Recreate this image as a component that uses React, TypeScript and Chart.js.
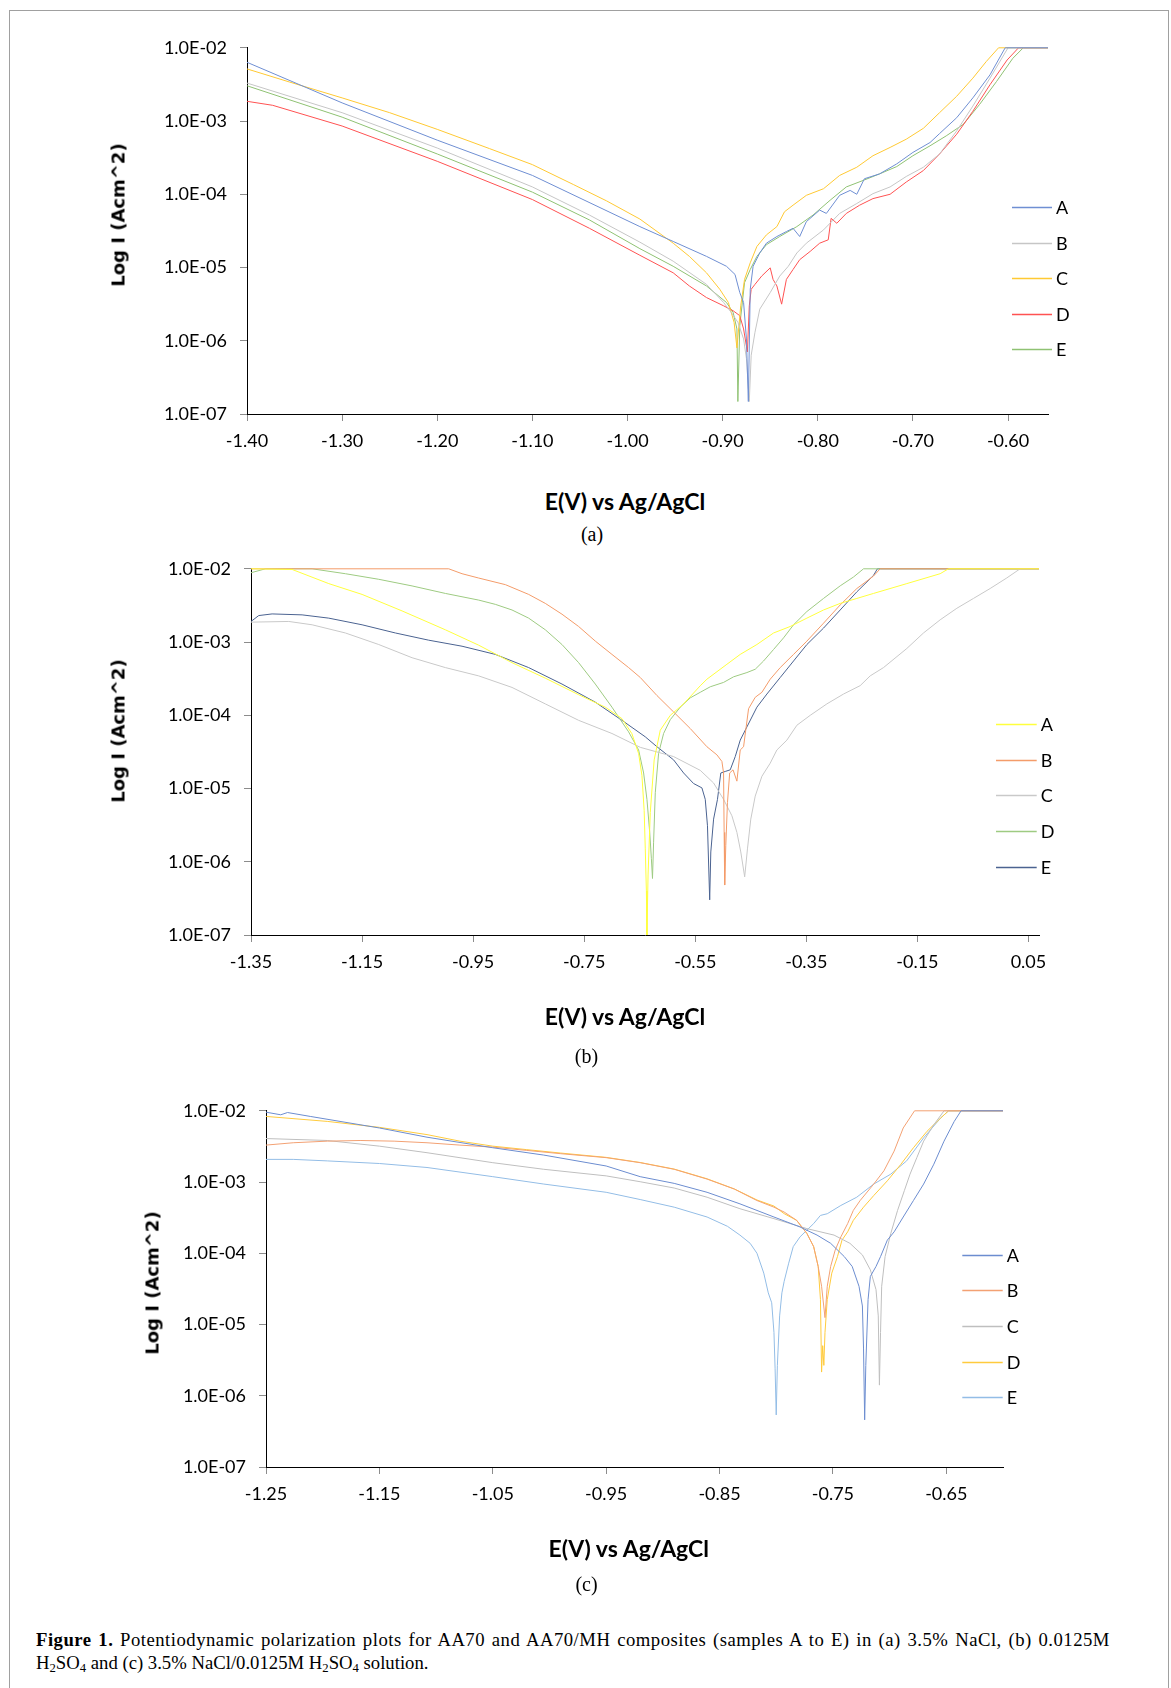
import React, { useEffect, useRef } from "react";
import { Chart, registerables } from "chart.js";

Chart.register(...registerables);

// ---------- shared ----------
const seriesLabels = ["A", "B", "C", "D", "E"];
const yTickValues = [1e-7, 1e-6, 1e-5, 1e-4, 1e-3, 1e-2];

// ---------- panel (a): 3.5% NaCl ----------
const aTicksX = [-1.4, -1.3, -1.2, -1.1, -1.0, -0.9, -0.8, -0.7, -0.6];

const aA_E = [-1.400, -1.300, -1.200, -1.100, -0.987, -0.952, -0.917, -0.896, -0.887, -0.882, -0.878, -0.875, -0.873, -0.871, -0.868, -0.861, -0.854, -0.843, -0.833, -0.826, -0.819, -0.812, -0.798, -0.791, -0.777, -0.766, -0.759, -0.751, -0.735, -0.717, -0.700, -0.682, -0.672, -0.654, -0.637, -0.619, -0.603, -0.558];
const aA_I = [6.34e-3, 1.77e-3, 5.48e-4, 1.81e-4, 3.62e-5, 2.27e-5, 1.42e-5, 1.04e-5, 8.04e-6, 4.55e-6, 3.33e-6, 1.06e-6, 1.48e-7, 5.04e-6, 1.04e-5, 1.58e-5, 2.15e-5, 2.65e-5, 3.10e-5, 3.43e-5, 2.65e-5, 4.23e-5, 6.08e-5, 5.48e-5, 9.68e-5, 1.13e-4, 1.0e-4, 1.63e-4, 1.90e-4, 2.60e-4, 3.73e-4, 5.09e-4, 6.74e-4, 1.11e-3, 2.07e-3, 4.27e-3, 1.0e-2, 1.0e-2];

const aB_E = [-1.400, -1.300, -1.200, -1.100, -1.040, -0.987, -0.952, -0.917, -0.899, -0.891, -0.884, -0.878, -0.875, -0.872, -0.870, -0.866, -0.861, -0.850, -0.840, -0.831, -0.822, -0.812, -0.794, -0.777, -0.759, -0.742, -0.724, -0.707, -0.689, -0.672, -0.654, -0.637, -0.619, -0.600, -0.558];
const aB_I = [3.30e-3, 1.30e-3, 4.28e-4, 1.26e-4, 5.20e-5, 2.22e-5, 1.22e-5, 5.89e-6, 3.33e-6, 2.44e-6, 1.79e-6, 1.06e-6, 5.71e-7, 1.48e-7, 6.34e-7, 1.31e-6, 2.70e-6, 4.55e-6, 7.64e-6, 1.04e-5, 1.58e-5, 2.15e-5, 3.26e-5, 5.48e-5, 7.48e-5, 1.02e-4, 1.26e-4, 1.75e-4, 2.34e-4, 3.55e-4, 7.33e-4, 1.60e-3, 3.85e-3, 1.0e-2, 1.0e-2];

const aC_E = [-1.400, -1.355, -1.300, -1.250, -1.200, -1.145, -1.100, -1.057, -1.022, -0.987, -0.952, -0.935, -0.917, -0.903, -0.894, -0.888, -0.885, -0.881, -0.877, -0.871, -0.864, -0.854, -0.843, -0.835, -0.826, -0.812, -0.794, -0.777, -0.759, -0.742, -0.724, -0.707, -0.689, -0.672, -0.654, -0.637, -0.623, -0.610, -0.558];
const aC_I = [5.15e-3, 3.40e-3, 2.07e-3, 1.30e-3, 7.70e-4, 4.20e-4, 2.54e-4, 1.36e-4, 8.12e-5, 4.59e-5, 2.15e-5, 1.42e-5, 8.47e-6, 5.04e-6, 3.33e-6, 1.79e-6, 8.0e-7, 3.0e-6, 6.88e-6, 1.16e-5, 1.94e-5, 2.79e-5, 3.62e-5, 5.77e-5, 7.10e-5, 9.68e-5, 1.19e-4, 1.81e-4, 2.34e-4, 3.36e-4, 4.36e-4, 5.65e-4, 7.96e-4, 1.30e-3, 2.18e-3, 3.85e-3, 6.47e-3, 1.0e-2, 1.0e-2];

const aD_E = [-1.400, -1.373, -1.300, -1.200, -1.100, -1.040, -0.987, -0.952, -0.935, -0.917, -0.899, -0.889, -0.882, -0.878, -0.874, -0.872, -0.870, -0.866, -0.859, -0.850, -0.847, -0.843, -0.838, -0.833, -0.826, -0.819, -0.808, -0.798, -0.789, -0.786, -0.780, -0.770, -0.756, -0.742, -0.724, -0.707, -0.689, -0.672, -0.654, -0.637, -0.619, -0.601, -0.589, -0.558];
const aD_I = [1.86e-3, 1.64e-3, 8.55e-4, 2.82e-4, 8.47e-5, 3.43e-5, 1.47e-5, 8.47e-6, 5.60e-6, 3.89e-6, 3.00e-6, 2.57e-6, 2.20e-6, 1.45e-6, 7.03e-7, 3.00e-6, 5.04e-6, 5.89e-6, 7.64e-6, 9.89e-6, 6.88e-6, 5.60e-6, 3.16e-6, 6.88e-6, 9.40e-6, 1.28e-5, 1.66e-5, 2.15e-5, 2.39e-5, 4.69e-5, 4.02e-5, 5.48e-5, 7.10e-5, 8.73e-5, 1.0e-4, 1.47e-4, 2.11e-4, 3.55e-4, 6.61e-4, 1.36e-3, 3.13e-3, 6.81e-3, 1.0e-2, 1.0e-2];

const aE_E = [-1.400, -1.300, -1.200, -1.100, -1.040, -0.987, -0.952, -0.917, -0.896, -0.889, -0.885, -0.884, -0.882, -0.877, -0.871, -0.864, -0.854, -0.840, -0.822, -0.805, -0.787, -0.770, -0.752, -0.735, -0.717, -0.700, -0.682, -0.665, -0.647, -0.630, -0.612, -0.595, -0.584, -0.558];
const aE_I = [3.03e-3, 1.13e-3, 3.55e-4, 1.07e-4, 4.46e-5, 1.81e-5, 1.04e-5, 5.60e-6, 3.33e-6, 2.44e-6, 1.45e-6, 1.48e-7, 1.61e-6, 6.21e-6, 9.40e-6, 1.42e-5, 2.05e-5, 2.65e-5, 3.62e-5, 5.20e-5, 8.30e-5, 1.26e-4, 1.55e-4, 1.90e-4, 2.39e-4, 3.36e-4, 4.59e-4, 6.27e-4, 9.02e-4, 1.68e-3, 3.48e-3, 7.18e-3, 1.0e-2, 1.0e-2];

// ---------- panel (b): 0.0125M H2SO4 ----------
const bTicksX = [-1.35, -1.15, -0.95, -0.75, -0.55, -0.35, -0.15, 0.05];

const bA_E = [-1.350, -1.276, -1.210, -1.150, -1.078, -1.000, -0.940, -0.880, -0.820, -0.760, -0.712, -0.682, -0.664, -0.652, -0.646, -0.642, -0.640, -0.638, -0.637, -0.635, -0.631, -0.624, -0.613, -0.595, -0.571, -0.541, -0.529, -0.493, -0.469, -0.439, -0.409, -0.379, -0.349, -0.319, -0.289, -0.259, -0.229, -0.169, -0.109, -0.094, 0.069];
const bA_I = [1.0e-2, 9.8e-3, 6.28e-3, 4.47e-3, 2.66e-3, 1.47e-3, 9.06e-4, 5.23e-4, 3.21e-4, 1.91e-4, 1.29e-4, 9.0e-5, 5.6e-5, 3.0e-5, 1.5e-5, 5.0e-6, 1.5e-6, 4.0e-7, 1.0e-7, 6.6e-7, 4.7e-6, 2.46e-5, 6.25e-5, 9.98e-5, 1.43e-4, 2.53e-4, 3.11e-4, 4.97e-4, 6.78e-4, 9.25e-4, 1.33e-3, 1.63e-3, 2.12e-3, 2.74e-3, 3.37e-3, 3.94e-3, 4.61e-3, 6.28e-3, 8.57e-3, 1.0e-2, 1.0e-2];

const bB_E = [-1.350, -0.994, -0.970, -0.940, -0.892, -0.850, -0.820, -0.790, -0.760, -0.730, -0.700, -0.670, -0.649, -0.619, -0.589, -0.559, -0.529, -0.511, -0.502, -0.499, -0.498, -0.497, -0.495, -0.492, -0.488, -0.482, -0.475, -0.469, -0.463, -0.454, -0.442, -0.430, -0.415, -0.397, -0.373, -0.349, -0.319, -0.289, -0.259, -0.229, -0.217, 0.069];
const bB_I = [1.0e-2, 1.0e-2, 8.57e-3, 7.48e-3, 6.08e-3, 4.47e-3, 3.37e-3, 2.40e-3, 1.63e-3, 1.03e-3, 6.78e-4, 4.48e-4, 3.28e-4, 1.86e-4, 1.11e-4, 6.59e-5, 3.72e-5, 2.88e-5, 2.34e-5, 1.63e-5, 2.52e-6, 4.81e-7, 1.67e-6, 6.40e-6, 1.63e-5, 1.80e-5, 1.26e-5, 3.36e-5, 3.72e-5, 1.23e-4, 1.76e-4, 2.06e-4, 3.11e-4, 4.48e-4, 6.78e-4, 1.03e-3, 1.81e-3, 3.21e-3, 5.38e-3, 7.96e-3, 1.0e-2, 1.0e-2];

const bC_E = [-1.350, -1.282, -1.240, -1.180, -1.120, -1.060, -1.000, -0.940, -0.880, -0.820, -0.760, -0.700, -0.649, -0.589, -0.541, -0.517, -0.499, -0.484, -0.475, -0.468, -0.461, -0.456, -0.450, -0.442, -0.430, -0.415, -0.403, -0.385, -0.367, -0.343, -0.313, -0.283, -0.253, -0.235, -0.211, -0.169, -0.139, -0.109, -0.079, -0.049, -0.019, 0.011, 0.035, 0.069];
const bC_I = [1.87e-3, 1.91e-3, 1.72e-3, 1.33e-3, 9.25e-4, 6.11e-4, 4.48e-4, 3.45e-4, 2.40e-4, 1.43e-4, 8.53e-5, 5.64e-5, 3.65e-5, 2.73e-5, 1.77e-5, 1.19e-5, 7.11e-6, 4.24e-6, 2.52e-6, 1.36e-6, 6.22e-7, 1.50e-6, 3.82e-6, 7.88e-6, 1.47e-5, 2.22e-5, 3.36e-5, 4.58e-5, 7.31e-5, 9.98e-5, 1.43e-4, 1.95e-4, 2.54e-4, 3.45e-4, 4.48e-4, 8.17e-4, 1.33e-3, 2.01e-3, 2.89e-3, 3.94e-3, 5.38e-3, 7.50e-3, 1.0e-2, 1.0e-2];

const bD_E = [-1.350, -1.324, -1.240, -1.180, -1.120, -1.060, -1.000, -0.940, -0.910, -0.880, -0.850, -0.820, -0.790, -0.760, -0.730, -0.700, -0.670, -0.652, -0.643, -0.637, -0.632, -0.629, -0.627, -0.625, -0.622, -0.616, -0.607, -0.595, -0.577, -0.559, -0.541, -0.523, -0.499, -0.481, -0.457, -0.442, -0.427, -0.409, -0.391, -0.373, -0.349, -0.319, -0.289, -0.265, -0.247, 0.069];
const bD_I = [8.83e-3, 1.0e-2, 1.0e-2, 8.57e-3, 7.19e-3, 5.84e-3, 4.61e-3, 3.74e-3, 3.27e-3, 2.74e-3, 2.12e-3, 1.47e-3, 9.25e-4, 5.23e-4, 2.67e-4, 1.29e-4, 5.94e-5, 3.36e-5, 1.63e-5, 7.11e-6, 2.52e-6, 1.10e-6, 5.91e-7, 1.85e-6, 8.75e-6, 3.03e-5, 5.64e-5, 8.71e-5, 1.29e-4, 1.73e-4, 2.06e-4, 2.45e-4, 2.81e-4, 3.35e-4, 3.83e-4, 4.25e-4, 5.51e-4, 7.91e-4, 1.14e-3, 1.72e-3, 2.61e-3, 3.94e-3, 5.85e-3, 7.73e-3, 1.0e-2, 1.0e-2];

const bE_E = [-1.350, -1.336, -1.312, -1.258, -1.210, -1.150, -1.090, -1.030, -0.970, -0.910, -0.850, -0.790, -0.730, -0.682, -0.640, -0.619, -0.589, -0.571, -0.553, -0.538, -0.532, -0.528, -0.524, -0.522, -0.517, -0.510, -0.504, -0.496, -0.487, -0.478, -0.469, -0.457, -0.439, -0.421, -0.397, -0.373, -0.349, -0.319, -0.289, -0.259, -0.229, -0.222, 0.069];
const bE_I = [1.91e-3, 2.30e-3, 2.42e-3, 2.35e-3, 2.12e-3, 1.72e-3, 1.33e-3, 1.06e-3, 8.77e-4, 6.78e-4, 4.48e-4, 2.67e-4, 1.51e-4, 8.53e-5, 5.08e-5, 3.72e-5, 2.46e-5, 1.63e-5, 1.17e-5, 1.02e-5, 7.11e-6, 3.10e-6, 3.02e-7, 1.36e-6, 3.82e-6, 7.11e-6, 1.63e-5, 1.71e-5, 1.80e-5, 2.73e-5, 4.58e-5, 6.93e-5, 1.29e-4, 1.95e-4, 3.28e-4, 5.51e-4, 9.25e-4, 1.55e-3, 2.74e-3, 4.85e-3, 8.13e-3, 1.0e-2, 1.0e-2];

// ---------- panel (c): 3.5% NaCl / 0.0125M H2SO4 ----------
const cTicksX = [-1.25, -1.15, -1.05, -0.95, -0.85, -0.75, -0.65];

const cA_E = [-1.250, -1.237, -1.231, -1.211, -1.150, -1.108, -1.050, -1.005, -0.950, -0.920, -0.890, -0.861, -0.832, -0.802, -0.779, -0.764, -0.752, -0.740, -0.733, -0.727, -0.724, -0.723, -0.722, -0.721, -0.719, -0.717, -0.712, -0.708, -0.702, -0.696, -0.688, -0.679, -0.670, -0.661, -0.652, -0.643, -0.637, -0.600];
const cA_I = [9.57e-3, 8.79e-3, 9.46e-3, 8.34e-3, 5.74e-3, 4.26e-3, 3.03e-3, 2.39e-3, 1.68e-3, 1.19e-3, 9.58e-4, 7.18e-4, 4.94e-4, 3.23e-4, 2.34e-4, 1.80e-4, 1.38e-4, 8.99e-5, 6.53e-5, 3.44e-5, 1.82e-5, 4.54e-6, 4.59e-7, 2.67e-6, 2.24e-5, 4.73e-5, 6.53e-5, 8.98e-5, 1.53e-4, 2.00e-4, 3.23e-4, 5.50e-4, 9.37e-4, 1.78e-3, 3.75e-3, 7.10e-3, 1.0e-2, 1.0e-2];

const cB_E = [-1.250, -1.226, -1.196, -1.167, -1.137, -1.108, -1.079, -1.050, -1.020, -0.990, -0.950, -0.920, -0.890, -0.861, -0.837, -0.817, -0.802, -0.793, -0.782, -0.773, -0.767, -0.763, -0.760, -0.757, -0.755, -0.752, -0.748, -0.743, -0.737, -0.732, -0.726, -0.714, -0.705, -0.696, -0.688, -0.678, -0.600];
const cB_I = [3.30e-3, 3.56e-3, 3.75e-3, 3.83e-3, 3.75e-3, 3.56e-3, 3.30e-3, 3.09e-3, 2.78e-3, 2.50e-3, 2.20e-3, 1.87e-3, 1.51e-3, 1.10e-3, 7.98e-4, 5.50e-4, 4.44e-4, 3.79e-4, 2.90e-4, 1.90e-4, 1.24e-4, 6.53e-5, 3.44e-5, 1.25e-5, 3.44e-5, 6.53e-5, 1.11e-4, 1.70e-4, 2.61e-4, 4.00e-4, 5.50e-4, 9.37e-4, 1.44e-3, 2.72e-3, 5.74e-3, 1.0e-2, 1.0e-2];

const cC_E = [-1.250, -1.196, -1.150, -1.108, -1.050, -1.005, -0.950, -0.920, -0.890, -0.861, -0.832, -0.802, -0.773, -0.749, -0.735, -0.724, -0.717, -0.712, -0.710, -0.709, -0.708, -0.707, -0.704, -0.699, -0.693, -0.687, -0.682, -0.676, -0.670, -0.661, -0.652, -0.600];
const cC_I = [4.08e-3, 3.83e-3, 3.19e-3, 2.58e-3, 1.87e-3, 1.51e-3, 1.22e-3, 1.01e-3, 8.24e-4, 6.12e-4, 4.22e-4, 3.06e-4, 2.22e-4, 1.80e-4, 1.38e-4, 9.48e-5, 5.86e-5, 3.09e-5, 1.32e-5, 1.41e-6, 7.74e-6, 3.44e-5, 8.98e-5, 1.89e-4, 3.99e-4, 7.57e-4, 1.29e-3, 2.20e-3, 3.75e-3, 6.38e-3, 1.0e-2, 1.0e-2];

const cD_E = [-1.250, -1.196, -1.150, -1.108, -1.079, -1.050, -1.020, -0.990, -0.950, -0.920, -0.890, -0.861, -0.837, -0.817, -0.802, -0.793, -0.782, -0.773, -0.767, -0.763, -0.761, -0.760, -0.759, -0.758, -0.757, -0.755, -0.751, -0.746, -0.742, -0.737, -0.732, -0.723, -0.714, -0.702, -0.690, -0.679, -0.667, -0.655, -0.648, -0.600];
const cD_I = [8.34e-3, 7.10e-3, 5.86e-3, 4.63e-3, 3.75e-3, 3.19e-3, 2.85e-3, 2.55e-3, 2.22e-3, 1.88e-3, 1.52e-3, 1.11e-3, 8.0e-4, 5.6e-4, 4.6e-4, 3.6e-4, 2.9e-4, 1.90e-4, 1.24e-4, 6.53e-5, 2.25e-5, 2.15e-6, 5.05e-6, 2.67e-6, 7.74e-6, 2.24e-5, 5.27e-5, 8.98e-5, 1.53e-4, 2.00e-4, 2.90e-4, 4.44e-4, 6.46e-4, 1.04e-3, 1.78e-3, 3.03e-3, 5.16e-3, 7.91e-3, 1.0e-2, 1.0e-2];

const cE_E = [-1.250, -1.226, -1.196, -1.150, -1.108, -1.050, -1.005, -0.950, -0.920, -0.890, -0.861, -0.843, -0.832, -0.823, -0.817, -0.811, -0.807, -0.804, -0.802, -0.801, -0.800, -0.799, -0.797, -0.795, -0.793, -0.789, -0.785, -0.779, -0.773, -0.767, -0.761, -0.755, -0.743, -0.729, -0.714, -0.699, -0.685, -0.670, -0.655, -0.648, -0.600];
const cE_I = [2.08e-3, 2.08e-3, 1.98e-3, 1.82e-3, 1.60e-3, 1.19e-3, 9.37e-4, 7.18e-4, 5.68e-4, 4.44e-4, 3.23e-4, 2.39e-4, 1.80e-4, 1.38e-4, 1.0e-4, 5.27e-5, 2.78e-5, 2.02e-5, 7.74e-6, 2.39e-6, 5.38e-7, 2.67e-6, 1.32e-5, 2.78e-5, 4.04e-5, 7.26e-5, 1.24e-4, 1.70e-4, 2.11e-4, 2.61e-4, 3.40e-4, 3.59e-4, 4.69e-4, 6.12e-4, 9.37e-4, 1.29e-3, 1.98e-3, 4.17e-3, 7.91e-3, 1.0e-2, 1.0e-2];

// ---------- styles ----------
const aColors = ["#6f8fd3", "#c6c6c6", "#ffc933", "#ff5252", "#8fc273"];
const bColors = ["#ffff3c", "#f49c6a", "#c9c9c9", "#9ecb82", "#4b6391"];
const cColors = ["#6c8dd0", "#f3a173", "#bfbfbf", "#ffcb3d", "#93bde6"];

type Area = { left: number; top: number; right: number; bottom: number };
type Panel = {
  key: string;
  E: number[][];
  I: number[][];
  colors: string[];
  xMin: number;
  xMax: number;
  xTicks: number[];
  area: Area;
  legend: { dx: number; dy: number; gap: number; len: number };
  yTitle: { x: number; y: number };
  xTitle: { x: number; y: number };
  tag: { text: string; x: number; y: number };
};

const panels: Panel[] = [
  {
    key: "a",
    E: [aA_E, aB_E, aC_E, aD_E, aE_E],
    I: [aA_I, aB_I, aC_I, aD_I, aE_I],
    colors: aColors,
    xMin: -1.4,
    xMax: -0.558,
    xTicks: aTicksX,
    area: { left: 247, top: 44, right: 1048, bottom: 414 },
    legend: { dx: -36, dy: 159.5, gap: 35.4, len: 40 },
    yTitle: { x: 118, y: 215 },
    xTitle: { x: 625, y: 501 },
    tag: { text: "(a)", x: 592, y: 534 },
  },
  {
    key: "b",
    E: [bA_E, bB_E, bC_E, bD_E, bE_E],
    I: [bA_I, bB_I, bC_I, bD_I, bE_I],
    colors: bColors,
    xMin: -1.35,
    xMax: 0.069,
    xTicks: bTicksX,
    area: { left: 251, top: 565, right: 1039, bottom: 935 },
    legend: { dx: -43, dy: 155.3, gap: 35.6, len: 40.7 },
    yTitle: { x: 118, y: 730.6 },
    xTitle: { x: 625, y: 1015.5 },
    tag: { text: "(b)", x: 586.5, y: 1055.5 },
  },
  {
    key: "c",
    E: [cA_E, cB_E, cC_E, cD_E, cE_E],
    I: [cA_I, cB_I, cC_I, cD_I, cE_I],
    colors: cColors,
    xMin: -1.25,
    xMax: -0.6,
    xTicks: cTicksX,
    area: { left: 266, top: 1107, right: 1003, bottom: 1467 },
    legend: { dx: -40.7, dy: 144, gap: 35.6, len: 40.4 },
    yTitle: { x: 152, y: 1283 },
    xTitle: { x: 628.8, y: 1548 },
    tag: { text: "(c)", x: 586.5, y: 1584 },
  },
];

const fmtSci = (v: number) => {
  const e = Math.round(Math.log10(v));
  const s = String(Math.abs(e)).padStart(2, "0");
  return `1.0E${e < 0 ? "-" : "+"}${s}`;
};

const sideLegend = {
  id: "sideLegend",
  afterDatasetsDraw(chart: any, _args: any, opts: any) {
    const { ctx, chartArea } = chart;
    ctx.save();
    chart.data.datasets.forEach((ds: any, i: number) => {
      const y = Math.round(chartArea.top + opts.dy + i * opts.gap) + 0.5;
      const x0 = chartArea.right + opts.dx;
      ctx.strokeStyle = ds.borderColor;
      ctx.lineWidth = 1.5;
      ctx.beginPath();
      ctx.moveTo(x0, y);
      ctx.lineTo(x0 + opts.len, y);
      ctx.stroke();
      ctx.fillStyle = "#000";
      ctx.font = "18px Lato";
      ctx.textBaseline = "middle";
      ctx.textAlign = "left";
      ctx.fillText(ds.label, x0 + opts.len + 4, y + 1);
    });
    ctx.restore();
  },
};

const CANVAS_LEFT = 20;
const PAD_TOP = 20;
const PAD_RIGHT = 40;
const X_AXIS_H = 70;

function PanelChart({ p }: { p: Panel }) {
  const ref = useRef<HTMLCanvasElement>(null);
  const W = p.area.right + PAD_RIGHT - CANVAS_LEFT;
  const H = p.area.bottom - p.area.top + PAD_TOP + X_AXIS_H;
  const yAxisW = p.area.left - CANVAS_LEFT;

  useEffect(() => {
    if (!ref.current) return;
    const datasets = p.E.map((xs, k) => ({
      label: seriesLabels[k],
      data: xs.map((x, i) => ({ x, y: p.I[k][i] })),
      borderColor: p.colors[k],
      backgroundColor: p.colors[k],
      borderWidth: 1,
      pointRadius: 0,
      tension: 0,
      fill: false,
      clip: 3,
    }));
    const chart = new Chart(ref.current, {
      type: "line",
      data: { datasets },
      plugins: [sideLegend],
      options: {
        responsive: false,
        animation: false,
        devicePixelRatio: 1,
        layout: { padding: { top: PAD_TOP, right: PAD_RIGHT, left: 0, bottom: 0 } },
        plugins: {
          legend: { display: false },
          tooltip: { enabled: false },
          sideLegend: p.legend,
        } as any,
        scales: {
          x: {
            type: "linear",
            min: p.xMin,
            max: p.xMax,
            afterBuildTicks: (s: any) => {
              s.ticks = p.xTicks.map((v) => ({ value: v }));
            },
            afterFit: (s: any) => {
              s.height = X_AXIS_H;
            },
            ticks: {
              autoSkip: false,
              maxRotation: 0,
              padding: 9,
              color: "#000",
              font: { family: "Lato", size: 18 },
              callback: (v: any) => Number(v).toFixed(2),
            },
            grid: { drawOnChartArea: false, drawTicks: true, tickLength: 7, tickColor: "#8c8c8c" },
            border: { display: true, color: "#000", width: 1 },
          },
          y: {
            type: "logarithmic",
            min: 1e-7,
            max: 1e-2,
            afterBuildTicks: (s: any) => {
              s.ticks = yTickValues.map((v) => ({ value: v }));
            },
            afterFit: (s: any) => {
              s.width = yAxisW;
            },
            ticks: {
              autoSkip: false,
              padding: 13,
              color: "#000",
              font: { family: "Lato", size: 18 },
              callback: (v: any) => fmtSci(Number(v)),
            },
            grid: { drawOnChartArea: false, drawTicks: true, tickLength: 7, tickColor: "#8c8c8c" },
            border: { display: true, color: "#000", width: 1 },
          },
        },
      } as any,
    });
    return () => chart.destroy();
  }, []);

  return (
    <canvas
      ref={ref}
      width={W}
      height={H}
      style={{ position: "absolute", left: CANVAS_LEFT, top: p.area.top - PAD_TOP, width: W, height: H }}
    />
  );
}

const yTitleStyle = (x: number, y: number): React.CSSProperties => ({
  position: "absolute",
  left: x,
  top: y,
  transform: "translate(-50%, -50%) rotate(-90deg)",
  font: 'bold 18px "DejaVu Sans"',
  color: "#000",
  whiteSpace: "nowrap",
});

const xTitleStyle = (x: number, y: number): React.CSSProperties => ({
  position: "absolute",
  left: x,
  top: y,
  transform: "translate(-50%, -50%)",
  font: "bold 23px Lato",
  color: "#000",
  whiteSpace: "nowrap",
});

const tagStyle = (x: number, y: number): React.CSSProperties => ({
  position: "absolute",
  left: x,
  top: y,
  transform: "translate(-50%, -50%)",
  font: '20px "Liberation Serif"',
  color: "#000",
  whiteSpace: "nowrap",
});

const subStyle: React.CSSProperties = { fontSize: "0.68em", verticalAlign: "-0.22em", lineHeight: 0 };

const captionLine: React.CSSProperties = {
  position: "absolute",
  left: 36,
  font: '18.7px "Liberation Serif"',
  lineHeight: "23.4px",
  color: "#000",
  whiteSpace: "nowrap",
};

export default function App() {
  return (
    <div style={{ position: "absolute", left: 0, top: 0, width: 1171, height: 1688, background: "#fff", overflow: "hidden" }}>
      <div
        style={{
          position: "absolute",
          left: 9,
          top: 10,
          width: 1158,
          height: 1700,
          border: "1px solid #a0a0a0",
          borderBottom: "none",
        }}
      />
      {panels.map((p) => (
        <React.Fragment key={p.key}>
          <PanelChart p={p} />
          <div style={yTitleStyle(p.yTitle.x, p.yTitle.y)}>Log I (Acm^2)</div>
          <div style={xTitleStyle(p.xTitle.x, p.xTitle.y)}>E(V) vs Ag/AgCl</div>
          <div style={tagStyle(p.tag.x, p.tag.y)}>{p.tag.text}</div>
        </React.Fragment>
      ))}
      <div
        style={{
          ...captionLine,
          top: 1628,
          width: 1074,
          whiteSpace: "normal",
          letterSpacing: "0.5px",
          textAlign: "justify",
          textAlignLast: "justify",
        }}
      >
        <b>Figure 1.</b> Potentiodynamic polarization plots for AA70 and AA70/MH composites (samples A to E) in (a) 3.5% NaCl, (b) 0.0125M
      </div>
      <div style={{ ...captionLine, top: 1651.4 }}>
        H<span style={subStyle}>2</span>SO<span style={subStyle}>4</span> and (c) 3.5% NaCl/0.0125M H<span style={subStyle}>2</span>SO
        <span style={subStyle}>4</span> solution.
      </div>
    </div>
  );
}
